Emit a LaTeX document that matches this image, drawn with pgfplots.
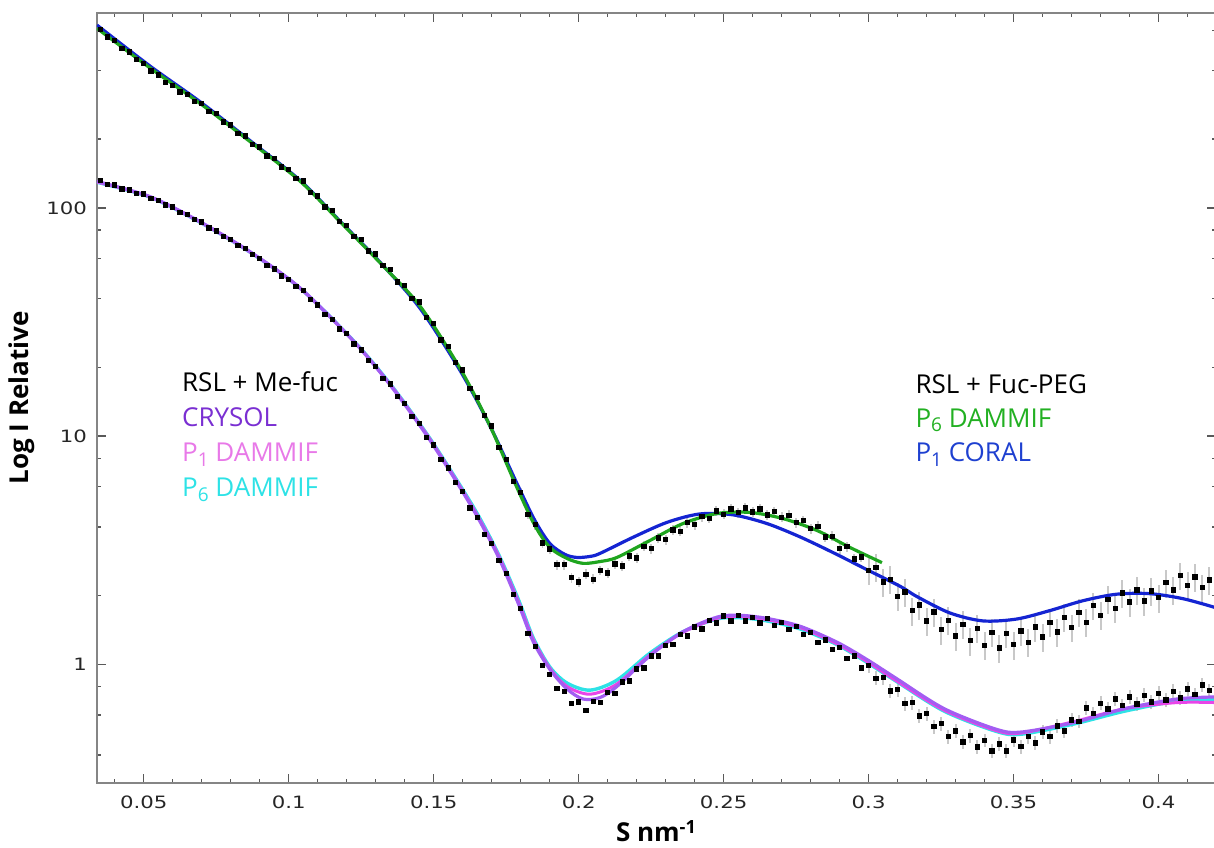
\documentclass[border=0pt]{standalone}
\usepackage{fontspec}
\setmainfont{Open Sans}
\newfontfamily\tickfont[FakeStretch=1.25]{DejaVu Sans}
\usepackage{pgfplots}
\usepackage{pgfplotstable}
\pgfplotsset{compat=1.18}
\definecolor{crysol}{HTML}{A25DF2}
\definecolor{crysoltxt}{HTML}{7A2FD2}
\definecolor{pone}{HTML}{E845E8}
\definecolor{ponetxt}{HTML}{E879E8}
\definecolor{psix}{HTML}{2EE2E6}
\definecolor{gfit}{HTML}{1FA51F}
\definecolor{gtxt}{HTML}{22B022}
\definecolor{bfit}{HTML}{1424D2}
\definecolor{btxt}{HTML}{1E40D0}
\definecolor{errgray}{HTML}{C8C8C8}
\definecolor{axgray}{HTML}{858585}

% RSL + Fuc-PEG experimental data
\pgfplotstableread{
s I
0.035 605
0.0375 562
0.040 540
0.0425 500
0.045 482
0.0475 446
0.050 430
0.0525 398
0.055 383
0.0575 354
0.060 345
0.0625 322
0.065 314
0.0675 292
0.070 287
0.0725 264
0.075 259
0.0775 238
0.080 231
0.0825 212
0.085 207
0.0875 190
0.090 185
0.0925 169
0.095 165
0.0975 151
0.100 147
0.1025 135
0.105 131
0.1075 117
0.110 113
0.1125 101
0.115 97.5
0.1175 87.0
0.120 83.8
0.1225 75.0
0.125 72.6
0.1275 64.8
0.130 62.9
0.1325 55.8
0.135 53.8
0.1375 47.3
0.140 45.8
0.1425 40.2
0.145 38.7
0.1475 33.1
0.150 31.1
0.1525 26.4
0.155 24.7
0.1575 21.0
0.160 19.5
0.1625 16.2
0.165 14.8
0.1675 12.3
0.170 11.1
0.1725 8.90
0.175 7.92
0.1775 6.32
0.180 5.66
0.1825 4.55
0.185 4.10
0.1875 3.40
0.190 3.20
0.1925 2.74
0.195 2.74
0.1975 2.40
0.200 2.30
0.2025 2.48
0.205 2.36
0.2075 2.58
0.210 2.52
0.2125 2.76
0.215 2.70
0.2175 2.99
0.220 2.93
0.2225 3.29
0.225 3.22
0.2275 3.58
0.230 3.52
0.2325 3.89
0.235 3.83
0.2375 4.18
0.240 4.10
0.2425 4.44
0.245 4.36
0.2475 4.70
0.250 4.55
0.2525 4.79
0.255 4.62
0.2575 4.84
0.260 4.66
0.2625 4.80
0.265 4.52
0.2675 4.68
0.270 4.41
0.2725 4.50
0.275 4.18
0.2775 4.26
0.280 3.94
0.2825 4.03
0.285 3.62
0.2875 3.64
0.290 3.22
0.2925 3.28
0.295 2.90
0.2975 2.96
0.300 2.58
0.3025 2.66
0.305 2.30
0.3075 2.36
0.310 1.99
0.3125 2.08
0.315 1.72
0.3175 1.82
0.320 1.55
0.3225 1.70
0.325 1.42
0.3275 1.56
0.330 1.33
0.3325 1.50
0.335 1.27
0.3375 1.44
0.340 1.21
0.3425 1.38
0.345 1.18
0.3475 1.37
0.350 1.22
0.3525 1.40
0.355 1.25
0.3575 1.46
0.360 1.32
0.3625 1.53
0.365 1.39
0.3675 1.61
0.370 1.45
0.3725 1.69
0.375 1.53
0.3775 1.81
0.380 1.64
0.3825 1.93
0.385 1.76
0.3875 2.06
0.390 1.88
0.3925 2.12
0.395 1.90
0.3975 2.10
0.400 1.96
0.4025 2.28
0.405 2.12
0.4075 2.45
0.410 2.22
0.4125 2.42
0.415 2.17
0.4175 2.34
}\upperdata

% RSL + Me-fuc experimental data
\pgfplotstableread{
s I
0.035 132
0.0375 127
0.040 126
0.0425 121
0.045 120
0.0475 116
0.050 115
0.0525 110
0.055 108
0.0575 103
0.060 101
0.0625 95.4
0.065 93.6
0.0675 88.8
0.070 86.8
0.0725 81.7
0.075 79.4
0.0775 74.8
0.080 72.6
0.0825 68.5
0.085 66.3
0.0875 62.4
0.090 60.1
0.0925 56.1
0.095 54.1
0.0975 50.4
0.100 48.7
0.1025 45.3
0.105 43.5
0.1075 39.6
0.110 37.6
0.1125 34.2
0.115 32.5
0.1175 29.5
0.120 28.1
0.1225 25.4
0.125 23.9
0.1275 21.4
0.130 20.2
0.1325 17.9
0.135 16.9
0.1375 14.9
0.140 13.9
0.1425 12.2
0.145 11.4
0.1475 9.9
0.150 9.15
0.1525 7.90
0.155 7.25
0.1575 6.25
0.160 5.72
0.1625 4.85
0.165 4.40
0.1675 3.72
0.170 3.38
0.1725 2.85
0.175 2.50
0.1775 2.02
0.180 1.76
0.1825 1.37
0.185 1.20
0.1875 0.99
0.190 0.905
0.1925 0.785
0.195 0.762
0.1975 0.675
0.200 0.685
0.2025 0.630
0.205 0.690
0.2075 0.680
0.210 0.755
0.2125 0.748
0.215 0.838
0.2175 0.845
0.220 0.955
0.2225 0.965
0.225 1.09
0.2275 1.09
0.230 1.21
0.2325 1.22
0.235 1.35
0.2375 1.33
0.240 1.46
0.2425 1.43
0.245 1.56
0.2475 1.52
0.250 1.63
0.2525 1.55
0.255 1.64
0.2575 1.55
0.260 1.61
0.2625 1.52
0.265 1.59
0.2675 1.48
0.270 1.53
0.2725 1.42
0.275 1.47
0.2775 1.35
0.280 1.38
0.2825 1.25
0.285 1.28
0.2875 1.16
0.290 1.19
0.2925 1.06
0.295 1.09
0.2975 0.965
0.300 0.99
0.3025 0.870
0.305 0.875
0.3075 0.765
0.310 0.775
0.3125 0.675
0.315 0.680
0.3175 0.595
0.320 0.610
0.3225 0.535
0.325 0.550
0.3275 0.482
0.330 0.510
0.3325 0.458
0.335 0.488
0.3375 0.434
0.340 0.465
0.3425 0.418
0.345 0.448
0.3475 0.418
0.350 0.466
0.3525 0.436
0.355 0.482
0.3575 0.452
0.360 0.505
0.3625 0.482
0.365 0.538
0.3675 0.512
0.370 0.572
0.3725 0.563
0.375 0.645
0.3775 0.610
0.380 0.676
0.3825 0.638
0.385 0.705
0.3875 0.660
0.390 0.720
0.3925 0.672
0.395 0.733
0.3975 0.685
0.400 0.748
0.4025 0.700
0.405 0.763
0.4075 0.712
0.410 0.780
0.4125 0.738
0.415 0.812
0.4175 0.768
}\lowerdata

\begin{document}
\begin{tikzpicture}
\begin{axis}[
  name=ax, at={(0,0)}, anchor=south west,
  scale only axis, width=559.5pt, height=384.85pt,
  xmin=0.0339, xmax=0.4198,
  ymode=log, ymin=0.303, ymax=714,
  xtick={0.05,0.1,0.15,0.2,0.25,0.3,0.35,0.4},
  xticklabels={0.05,0.1,0.15,0.2,0.25,0.3,0.35,0.4},
  minor xtick={0.04,0.06,0.07,0.08,0.09,0.11,0.12,0.13,0.14,0.16,0.17,0.18,0.19,0.21,0.22,0.23,0.24,0.26,0.27,0.28,0.29,0.31,0.32,0.33,0.34,0.36,0.37,0.38,0.39,0.41},
  ytick={1,10,100},
  yticklabels={1,10,100},
  minor ytick={0.4,0.6,0.8,2,4,6,8,20,40,60,80,200,400,600},
  tick align=inside,
  major tick length=4.4pt, minor tick length=2.1pt,
  every tick/.style={color=black!65, line width=0.7pt},
  axis line style={color=axgray, line width=0.8pt},
  ticklabel style={font=\tickfont\fontsize{8.5}{10}\selectfont, color=black!85},
  xticklabel style={yshift=-3pt},
  yticklabel style={xshift=-1.5pt},
  xlabel={\textbf{S nm\textsuperscript{-1}}},
  ylabel={\textbf{Log I Relative}},
  label style={font=\fontsize{13}{15}\selectfont},
  xlabel style={at={(axis description cs:0.5,-0.077)}, anchor=base},
  ylabel style={at={(axis description cs:-0.049,0.5)}, anchor=south},
  clip=true,
]
% error bars (grey, under the points)
\addplot[forget plot, draw=none, no markers, restrict x to domain=0.18:0.2999,
  error bars/.cd, y dir=both, y fixed relative=0.05, error mark=none,
  error bar style={draw=errgray, solid, line width=0.9pt}] table[x=s,y=I] {\upperdata};
\addplot[forget plot, draw=none, no markers, restrict x to domain=0.3:0.42,
  error bars/.cd, y dir=both, y fixed relative=0.14, error mark=none,
  error bar style={draw=errgray, solid, line width=0.9pt}] table[x=s,y=I] {\upperdata};
\addplot[forget plot, draw=none, no markers, restrict x to domain=0.3:0.42,
  error bars/.cd, y dir=both, y fixed relative=0.07, error mark=none,
  error bar style={draw=errgray, solid, line width=0.9pt}] table[x=s,y=I] {\lowerdata};
% data points
\addplot[only marks, mark=square*, mark size=1.1pt, color=black] table[x=s,y=I] {\upperdata};
\addplot[only marks, mark=square*, mark size=1.1pt, color=black] table[x=s,y=I] {\lowerdata};
% P6 DAMMIF (lower)
\addplot[smooth, color=psix, line width=1.7pt] coordinates {
(0.0339,129.5) (0.0522,111.4) (0.0694,86.5) (0.0867,63.9) (0.1039,44.5) (0.1222,26.3) (0.1349,17.0)
(0.1480,10.07) (0.1591,6.09) (0.1660,4.35) (0.1729,2.94) (0.1794,1.90) (0.1843,1.31) (0.1901,0.973)
(0.1960,0.828) (0.2039,0.771) (0.2132,0.853) (0.2246,1.12) (0.2360,1.39) (0.2477,1.58)
(0.2556,1.60) (0.2649,1.55) (0.2763,1.43) (0.2891,1.22) (0.2994,1.02) (0.3094,0.845) (0.3260,0.624)
(0.3439,0.509) (0.3525,0.494) (0.3705,0.547) (0.3884,0.624) (0.4063,0.690) (0.4198,0.705)};
% P1 DAMMIF
\addplot[smooth, color=pone, line width=1.5pt] coordinates {
(0.0339,129.8) (0.0522,111.6) (0.0694,86.7) (0.0867,64.0) (0.1039,44.5) (0.1222,26.2) (0.1349,16.9)
(0.1480,10.0) (0.1591,6.02) (0.1660,4.28) (0.1729,2.90) (0.1794,1.86) (0.1843,1.29) (0.1901,0.96)
(0.1960,0.80) (0.2039,0.74) (0.2132,0.82) (0.2246,1.10) (0.2360,1.38) (0.2477,1.59)
(0.2556,1.62) (0.2649,1.57) (0.2763,1.45) (0.2891,1.23) (0.2994,1.03) (0.3094,0.85) (0.3260,0.63)
(0.3439,0.513) (0.3525,0.50) (0.3705,0.56) (0.3884,0.64) (0.4063,0.68) (0.4198,0.68)};
% CRYSOL
\addplot[smooth, color=crysol, line width=1.6pt] coordinates {
(0.0339,130.5) (0.0522,112) (0.0694,87.0) (0.0867,64.2) (0.1039,44.6) (0.1222,26.2) (0.1349,16.8)
(0.1480,9.9) (0.1591,5.95) (0.1660,4.22) (0.1729,2.85) (0.1794,1.82) (0.1843,1.26) (0.1901,0.95)
(0.1960,0.78) (0.2015,0.705) (0.2073,0.715) (0.2132,0.80) (0.2246,1.09) (0.2360,1.39) (0.2477,1.61)
(0.2556,1.64) (0.2649,1.59) (0.2763,1.47) (0.2891,1.25) (0.2994,1.05) (0.3094,0.87) (0.3260,0.64)
(0.3439,0.52) (0.3525,0.505) (0.3705,0.555) (0.3884,0.64) (0.4063,0.705) (0.4198,0.72)};
% P1 CORAL
\addplot[smooth, color=bfit, line width=1.6pt] coordinates {
(0.0339,632) (0.0522,418) (0.0694,292) (0.0867,197) (0.1039,132) (0.1177,87.5)
(0.1315,57.8) (0.1453,36.3) (0.1591,19.4) (0.1694,11.1) (0.1787,6.21) (0.1849,4.27) (0.1901,3.38)
(0.1953,3.03) (0.1994,2.94) (0.2039,2.97) (0.2073,3.06) (0.2187,3.60) (0.2305,4.19) (0.2418,4.56)
(0.2532,4.52) (0.2649,4.14) (0.2763,3.62) (0.2877,3.09) (0.2994,2.60) (0.3108,2.20) (0.3167,1.98)
(0.3280,1.68) (0.3394,1.55) (0.3511,1.58) (0.3625,1.72) (0.3739,1.90) (0.3856,2.03) (0.3970,2.04)
(0.4084,1.94) (0.4198,1.77)};
% P6 DAMMIF (upper)
\addplot[smooth, color=gfit, line width=1.6pt] coordinates {
(0.0339,612) (0.0522,410) (0.0694,287) (0.0867,195) (0.1039,131) (0.1177,87.0) (0.1315,57.5)
(0.1453,37.1) (0.1591,19.8) (0.1694,11.1) (0.1787,5.96) (0.1849,4.06) (0.1901,3.25) (0.1960,2.91)
(0.2015,2.77) (0.2073,2.82) (0.2132,2.94) (0.2246,3.49) (0.2360,4.14) (0.2477,4.58) (0.2591,4.63)
(0.2705,4.35) (0.2822,3.86) (0.2936,3.25) (0.3046,2.79)};
% annotations
\node[anchor=base west, font=\fontsize{13}{15}\selectfont, color=black] at (rel axis cs:0.0698,0.508) {RSL + Me-fuc};
\node[anchor=base west, font=\fontsize{13}{15}\selectfont, color=crysoltxt] at (rel axis cs:0.0698,0.4625) {CRYSOL};
\node[anchor=base west, font=\fontsize{13}{15}\selectfont, color=ponetxt] at (rel axis cs:0.0698,0.417) {P\raisebox{-0.35ex}{\fontsize{9.5}{10}\selectfont 1} DAMMIF};
\node[anchor=base west, font=\fontsize{13}{15}\selectfont, color=psix] at (rel axis cs:0.0698,0.3716) {P\raisebox{-0.35ex}{\fontsize{9.5}{10}\selectfont 6} DAMMIF};
\node[anchor=base west, font=\fontsize{13}{15}\selectfont, color=black] at (rel axis cs:0.7252,0.506) {RSL + Fuc-PEG};
\node[anchor=base west, font=\fontsize{13}{15}\selectfont, color=gtxt] at (rel axis cs:0.7252,0.462) {P\raisebox{-0.35ex}{\fontsize{9.5}{10}\selectfont 6} DAMMIF};
\node[anchor=base west, font=\fontsize{13}{15}\selectfont, color=btxt] at (rel axis cs:0.7252,0.4167) {P\raisebox{-0.35ex}{\fontsize{9.5}{10}\selectfont 1} CORAL};
\end{axis}
\pgfresetboundingbox
\useasboundingbox (-48.5pt,-32.15pt) rectangle (558.5pt,391.35pt);
\end{tikzpicture}
\end{document}
